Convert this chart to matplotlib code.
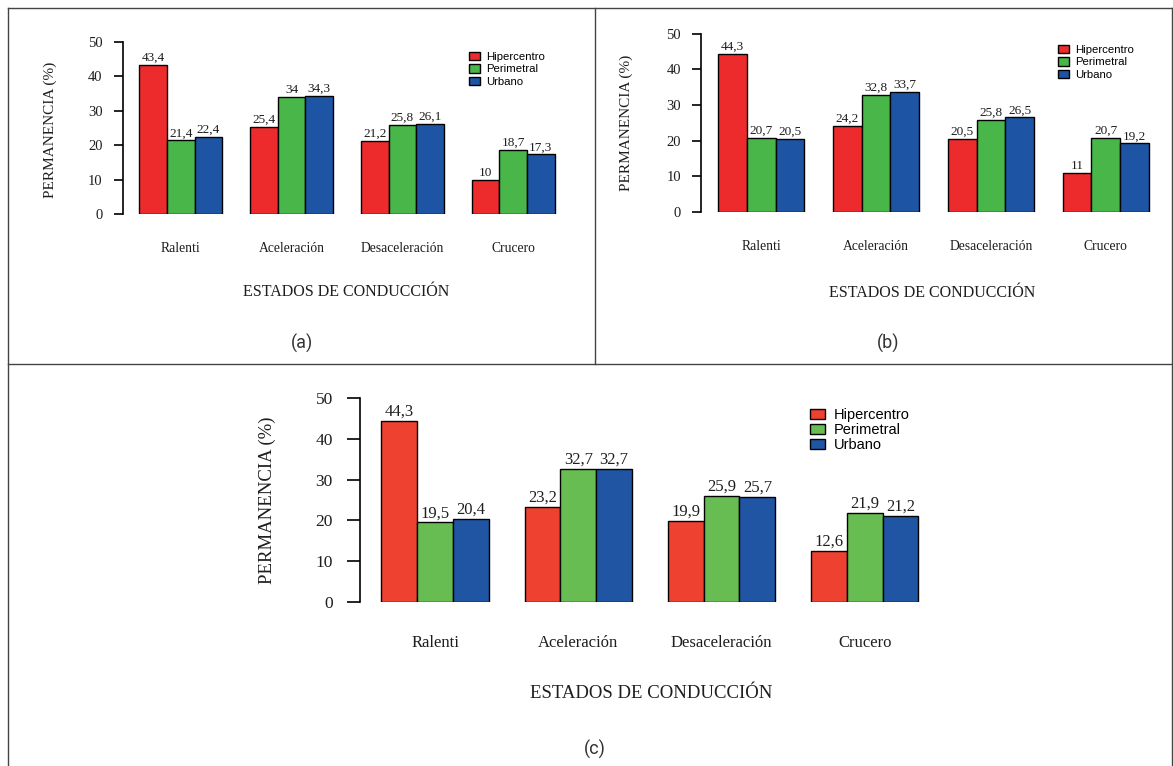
import matplotlib
matplotlib.use('Agg')
import matplotlib.pyplot as plt
import matplotlib.transforms as mtransforms
from matplotlib.lines import Line2D
import numpy as np

# data
estados = ['Ralenti', 'Aceleración', 'Desaceleración', 'Crucero']
series_names = ['Hipercentro', 'Perimetral', 'Urbano']

hiper_a = [43.4, 25.4, 21.2, 10]
perim_a = [21.4, 34, 25.8, 18.7]
urb_a = [22.4, 34.3, 26.1, 17.3]

hiper_b = [44.3, 24.2, 20.5, 11]
perim_b = [20.7, 32.8, 25.8, 20.7]
urb_b = [20.5, 33.7, 26.5, 19.2]

hiper_c = [44.3, 23.2, 19.9, 12.6]
perim_c = [19.5, 32.7, 25.9, 21.9]
urb_c = [20.4, 32.7, 25.7, 21.2]

yticks = [0, 10, 20, 30, 40, 50]

W, H = 1173, 766
fig = plt.figure(figsize=(W / 100, H / 100), dpi=100)

SERIF = 'Liberation Serif'
SANS = 'Liberation Sans'
INK = '#1e1e1e'


def fx(px):
    return px / W


def fy(py):
    return 1 - py / H


def panel(series, colors, spine_x, unit, y0, y50, s):
    # s holds font sizes / offsets for this panel
    ax = fig.add_axes([fx(spine_x), fy(y0), (16.2 * unit) / W, (y0 - y50) / H])
    ax.set_xlim(0.4, 16.6)
    ax.set_ylim(0, 50)
    for i, vals in enumerate(series):
        lefts = 1 + 4 * np.arange(len(vals)) + i
        ax.bar(lefts, vals, width=1, align='edge', color=colors[i],
               edgecolor='black', linewidth=1.0, label=series_names[i], zorder=2)
        for x, v in zip(lefts, vals):
            ax.text(x + 0.5, v + 0.3, f'{v:g}'.replace('.', ','), ha='center', va='bottom',
                    fontsize=s['val'], family=SERIF, color=INK)
    for side in ['top', 'right', 'bottom']:
        ax.spines[side].set_visible(False)
    ax.spines['left'].set_bounds(0, 50)
    ax.spines['left'].set_linewidth(1.2)
    ax.set_yticks(yticks)
    ax.set_yticklabels([str(t) for t in yticks], family=SERIF, fontsize=s['tick'], color=INK)
    ax.tick_params(axis='y', length=s['tlen'], pad=s['tpad'], width=1.2)
    ax.set_xticks([])
    ax.patch.set_alpha(0)
    tr = mtransforms.offset_copy(ax.get_xaxis_transform(), fig=fig, x=0,
                                 y=-s['cat_off'] * 0.72, units='points')
    for g, name in enumerate(estados):
        ax.text(2.5 + 4 * g, 0, name, transform=tr, ha='center', va='center',
                fontsize=s['cat'], family=SERIF, color=INK)
    return ax


colors_ab = ['#ED2B2C', '#48B649', '#1D55A4']
colors_c = ['#EE4130', '#68BD52', '#2055A4']

size_ab = dict(val=9.5, tick=10.5, tlen=6.5, tpad=8, cat=9.8, cat_off=34)
size_c = dict(val=12, tick=12.5, tlen=9.5, tpad=10, cat=12, cat_off=41)

ax_a = panel([hiper_a, perim_a, urb_a], colors_ab, 122.6, 27.7, 214, 42, size_ab)
ax_b = panel([hiper_b, perim_b, urb_b], colors_ab, 701, 28.7, 212, 33.5, size_ab)
ax_c = panel([hiper_c, perim_c, urb_c], colors_c, 360, 35.8, 602, 398, size_c)

# legends
for ax, lx, ly, fs, sp, hh, tp in [(ax_a, 463, 46, 8.2, 0.22, 0.75, 0.55),
                                   (ax_b, 1052, 39, 8.2, 0.22, 0.75, 0.55),
                                   (ax_c, 803, 401, 10.5, 0.05, 0.7, 0.6)]:
    ax.legend(loc='upper left', bbox_to_anchor=(fx(lx), fy(ly)), bbox_transform=fig.transFigure,
              frameon=False, borderpad=0, handlelength=1.0, handleheight=hh,
              handletextpad=tp, labelspacing=sp, prop={'family': SANS, 'size': fs})

# axis titles
for x, y, fs in [(50, 130, 11), (626, 123, 11)]:
    fig.text(fx(x), fy(y), 'PERMANENCIA (%)', rotation=90, ha='center', va='center',
             family=SERIF, fontsize=fs, color=INK)
fig.text(fx(267), fy(500), 'PERMANENCIA (%)', rotation=90, ha='center', va='center',
         family=SERIF, fontsize=13.5, color=INK)

for x, y, fs in [(346, 292, 11.5), (932, 293, 11.5), (651, 693, 13.5)]:
    fig.text(fx(x), fy(y), 'ESTADOS DE CONDUCCIÓN', ha='center', va='center',
             family=SERIF, fontsize=fs, color=INK)

for x, y, lab in [(302, 343, '(a)'), (888, 343, '(b)'), (595, 749, '(c)')]:
    fig.text(fx(x), fy(y), lab, ha='center', va='center', family='Roboto',
             fontsize=13, color='#333333')

# panel frames
frame = dict(color='#444444', linewidth=1.0, transform=fig.transFigure)
fig.add_artist(Line2D([fx(8), fx(8)], [fy(8), fy(766)], **frame))
fig.add_artist(Line2D([fx(8), fx(1172)], [fy(8), fy(8)], **frame))
fig.add_artist(Line2D([fx(1172), fx(1172)], [fy(8), fy(766)], **frame))
fig.add_artist(Line2D([fx(8), fx(1172)], [fy(364), fy(364)], **frame))
fig.add_artist(Line2D([fx(595), fx(595)], [fy(8), fy(364)], **frame))

fig.savefig('out.png', dpi=100)
